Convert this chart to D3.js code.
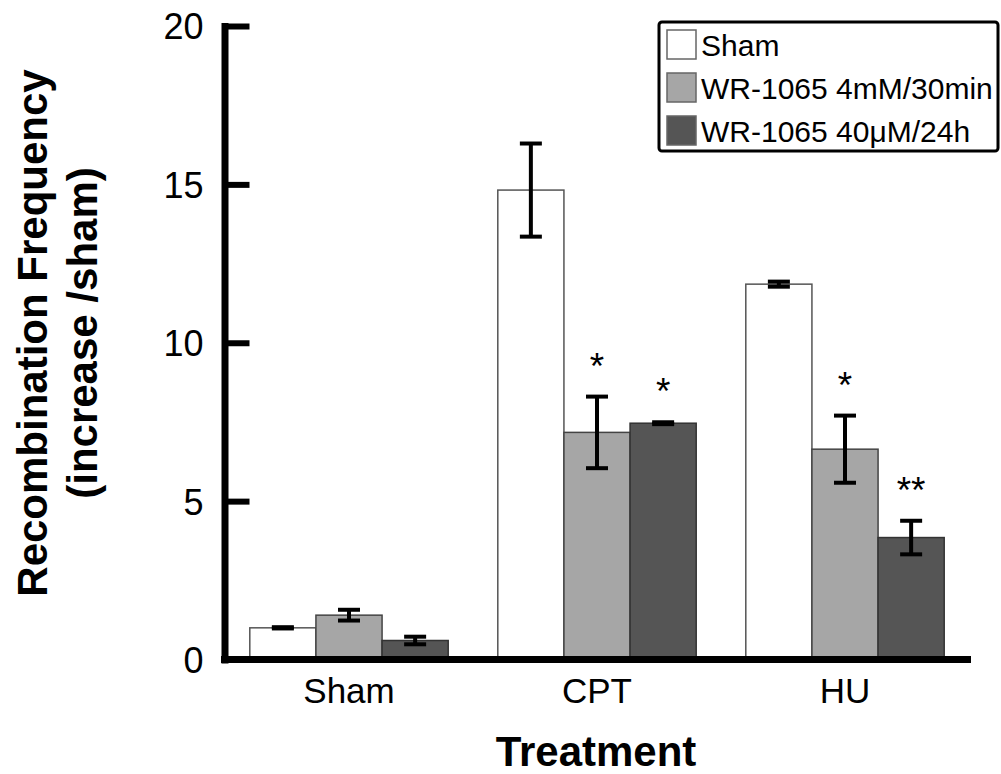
<!DOCTYPE html>
<html>
<head>
    <meta charset="utf-8">
    <script src="https://d3js.org/d3.v7.min.js" charset="utf-8"></script>
    <style>
        body { margin: 0; background: #fff; }
        text { font-family: "Liberation Sans", Arial, sans-serif; }
    </style>
</head>
<body>
<script>
    // data
    const categories = ["Sham", "CPT", "HU"];
    const seriesNames = ["Sham", "WR-1065 4mM/30min", "WR-1065 40\u03bcM/24h"];
    const shamMeans = [1.0, 14.82, 11.85];
    const shamErr = [0.02, 1.47, 0.08];
    const wr4Means = [1.4, 7.17, 6.64];
    const wr4Err = [0.17, 1.13, 1.06];
    const wr40Means = [0.6, 7.46, 3.85];
    const wr40Err = [0.12, 0.03, 0.53];
    const wr4Stars = ["", "*", "*"];
    const wr40Stars = ["", "*", "**"];
    const yTicks = [0, 5, 10, 15, 20];

    const series = [
        { name: seriesNames[0], means: shamMeans, err: shamErr, stars: ["", "", ""], fill: "#ffffff", stroke: "#555" },
        { name: seriesNames[1], means: wr4Means, err: wr4Err, stars: wr4Stars, fill: "#a6a6a6", stroke: "#444" },
        { name: seriesNames[2], means: wr40Means, err: wr40Err, stars: wr40Stars, fill: "#555555", stroke: "#333" }
    ];

    const width = 1001, height = 774;
    const svg = d3.select("body").append("svg")
        .attr("width", width).attr("height", height);

    const x0 = d3.scaleBand().domain(categories).range([225, 969])
        .paddingInner(0.2).paddingOuter(0.1);
    const x1 = d3.scaleBand().domain(d3.range(series.length)).range([0, x0.bandwidth()]);
    const y = d3.scaleLinear().domain([0, 20]).range([659.5, 26]);

    // bars
    series.forEach((s, si) => {
        const g = svg.append("g");
        g.selectAll("rect").data(categories).enter().append("rect")
            .attr("x", (c) => x0(c) + x1(si))
            .attr("y", (c, i) => y(s.means[i]))
            .attr("width", x1.bandwidth())
            .attr("height", (c, i) => y(0) - y(s.means[i]))
            .style("fill", s.fill)
            .style("stroke", s.stroke)
            .style("stroke-width", 1.5);

        // error bars
        categories.forEach((c, i) => {
            const cx = x0(c) + x1(si) + x1.bandwidth() / 2;
            const hi = y(s.means[i] + s.err[i]), lo = y(s.means[i] - s.err[i]);
            g.append("line").attr("x1", cx).attr("x2", cx).attr("y1", hi).attr("y2", lo)
                .style("stroke", "#000").style("stroke-width", 4);
            [hi, lo].forEach(v => {
                g.append("line").attr("x1", cx - 11).attr("x2", cx + 11).attr("y1", v).attr("y2", v)
                    .style("stroke", "#000").style("stroke-width", 4);
            });
            if (s.stars[i]) {
                g.append("text").attr("x", cx).attr("y", hi + 2)
                    .attr("dy", "-20")
                    .attr("text-anchor", "middle")
                    .style("font-size", "37px")
                    .text(s.stars[i]);
            }
        });
    });

    // y axis
    const yAxis = svg.append("g").attr("transform", "translate(224.5,0)")
        .call(d3.axisLeft(y).tickValues(yTicks).tickSizeInner(-25).tickSizeOuter(0).tickPadding(21));
    yAxis.select(".domain").style("stroke-width", 7).style("stroke-linecap", "square");
    yAxis.selectAll(".tick line").style("stroke-width", 6);
    yAxis.selectAll(".tick text").style("font-size", "36px").attr("dy", "0.36em")
        .style("font-family", "'Liberation Sans', Arial, sans-serif");

    // x axis
    const xAxis = svg.append("g").attr("transform", "translate(0,659.5)")
        .call(d3.axisBottom(x0).tickSize(0).tickPadding(19));
    xAxis.select(".domain").attr("d", "M221,0H971").style("stroke-width", 7);
    xAxis.selectAll(".tick text").style("font-size", "35px")
        .style("font-family", "'Liberation Sans', Arial, sans-serif");

    // axis titles
    svg.append("text").attr("x", 596).attr("y", 766)
        .attr("text-anchor", "middle")
        .style("font-size", "42px").style("font-weight", "bold")
        .text("Treatment");
    const yt = svg.append("text").attr("transform", "translate(47,333) rotate(-90)")
        .attr("text-anchor", "middle")
        .style("font-size", "42px").style("font-weight", "bold");
    yt.append("tspan").attr("x", 0).attr("y", 0).text("Recombination Frequency");
    yt.append("tspan").attr("x", 0).attr("y", 50).text("(increase /sham)");

    // legend
    const lg = svg.append("g").attr("transform", "translate(659,22)");
    lg.append("rect").attr("width", 339).attr("height", 129).attr("rx", 3)
        .style("fill", "#fff").style("stroke", "#000").style("stroke-width", 3);
    series.forEach((s, i) => {
        lg.append("rect").attr("x", 8).attr("y", 8 + i * 43).attr("width", 29).attr("height", 29)
            .style("fill", s.fill).style("stroke", "#666").style("stroke-width", 1.5);
        lg.append("text").attr("x", 42).attr("y", 34 + i * 43)
            .style("font-size", "30px").text(s.name);
    });
</script>
</body>
</html>
